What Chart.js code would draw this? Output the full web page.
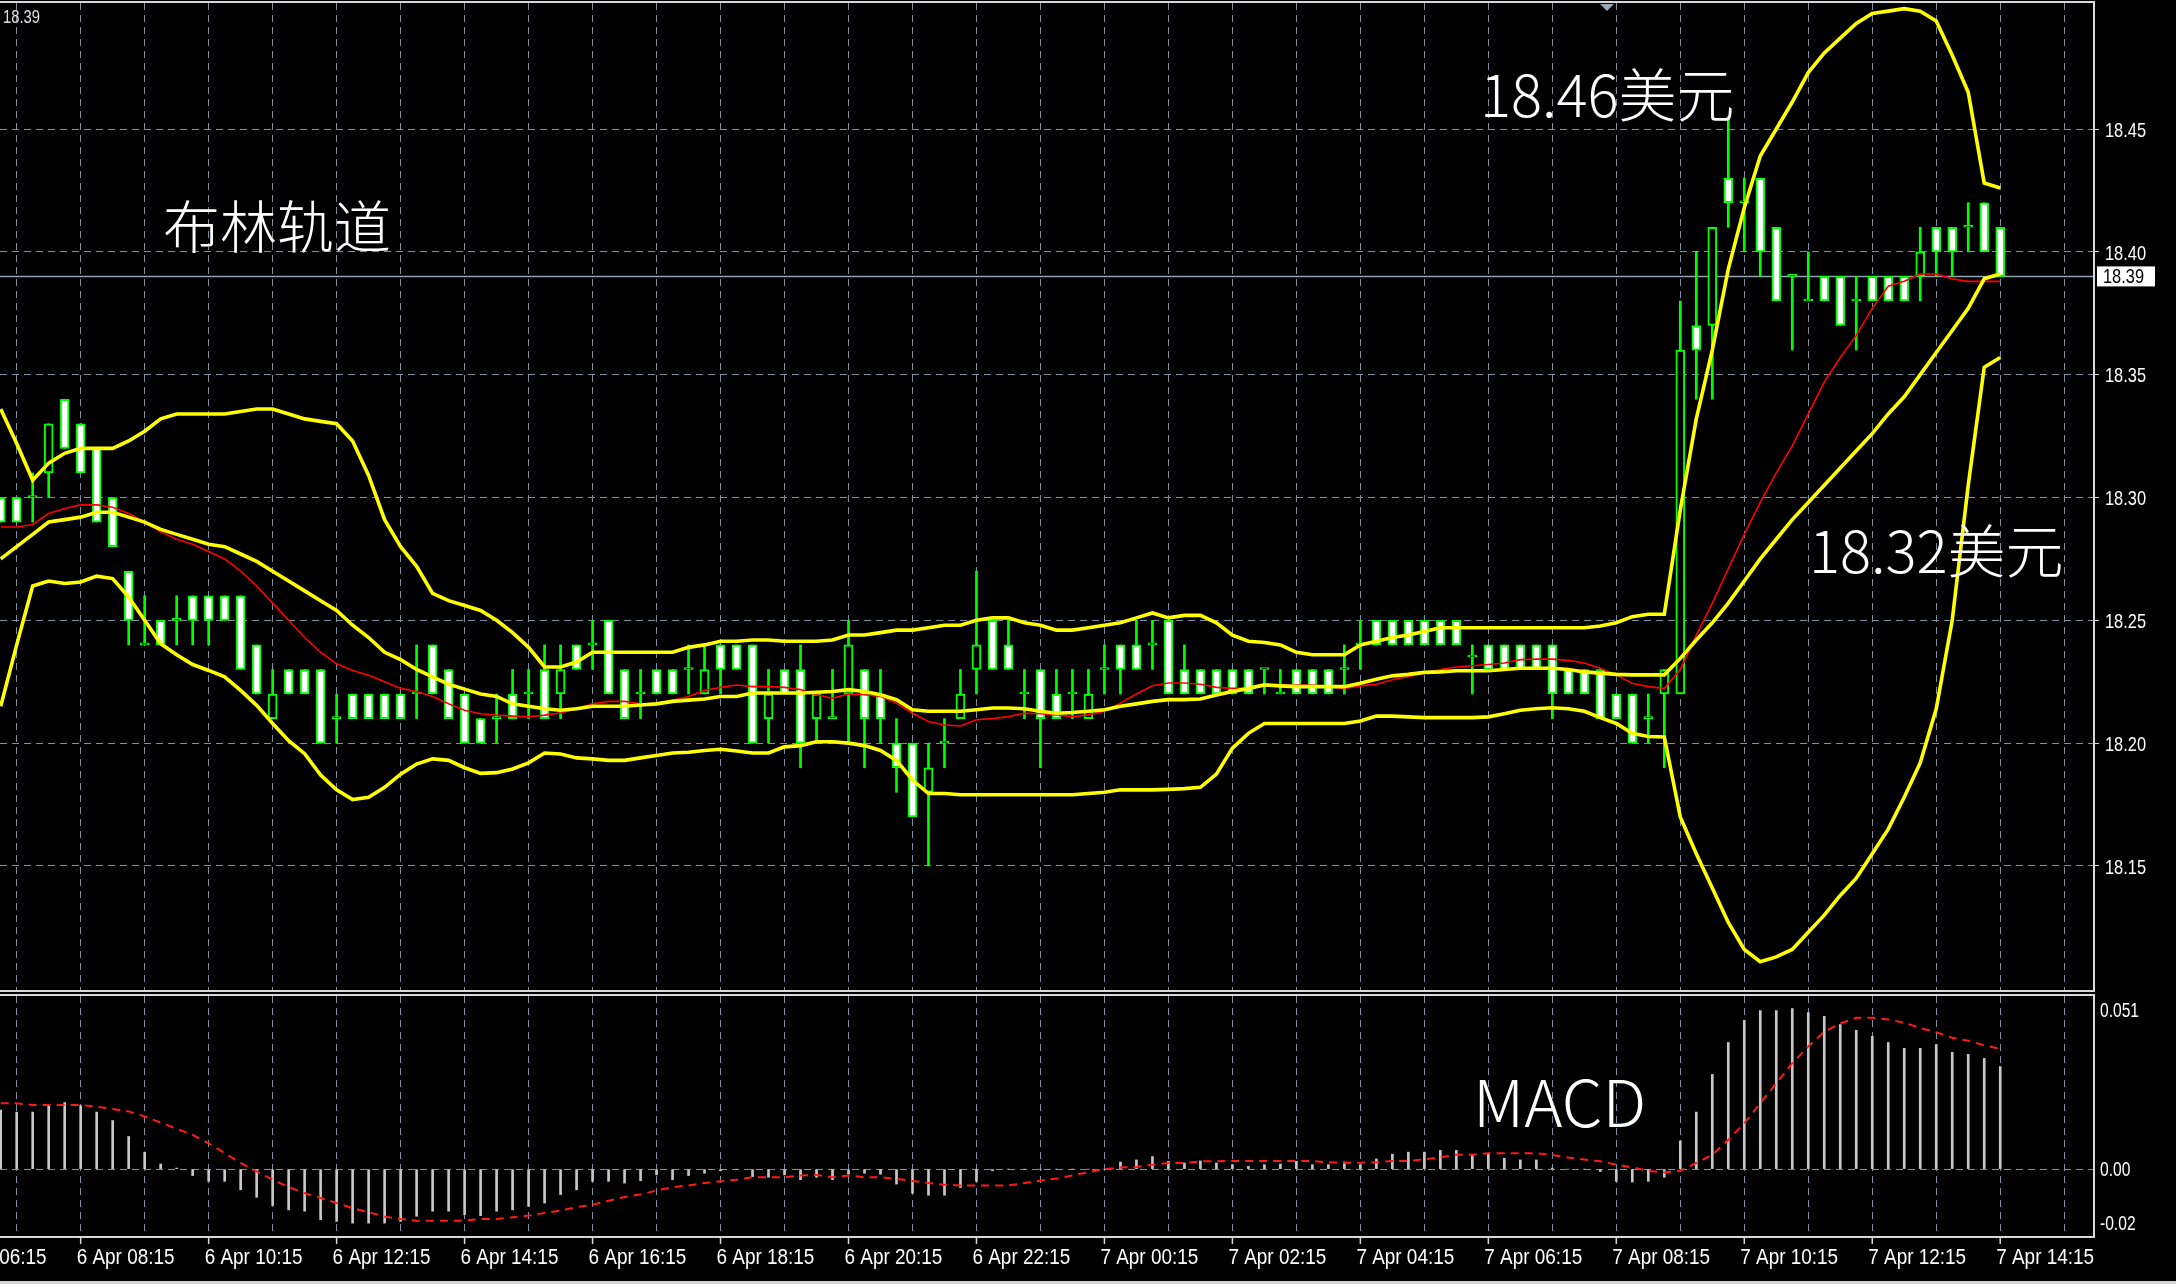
<!DOCTYPE html>
<html>
<head>
<meta charset="utf-8">
<script src="https://cdn.jsdelivr.net/npm/chart.js@4.4.1/dist/chart.umd.min.js"></script>
<style>
  html, body { margin: 0; padding: 0; background: #000; overflow: hidden; }
  #wrap { position: relative; width: 2176px; height: 1284px; background: #000; overflow: hidden; }
  #main { position: absolute; left: 0; top: 0; }
  #macd { position: absolute; left: 0; top: 993px; }
  .note { position: absolute; color: #fff; font-family: "Noto Sans CJK SC", sans-serif; font-weight: 300; line-height: 1; white-space: nowrap; }
  #strip { position: absolute; left: 0; top: 1281px; width: 2176px; height: 3px; background: #d4d4d4; }
</style>
</head>
<body>
<div id="wrap">
  <canvas id="main" width="2176" height="992"></canvas>
  <canvas id="macd" width="2176" height="291"></canvas>
  <div class="note" style="left:163px;top:195px;font-size:57px">布林轨道</div>
  <div class="note" style="left:1480px;top:63px;font-size:58px">18.46美元</div>
  <div class="note" style="left:1809px;top:519px;font-size:58px">18.32美元</div>
  <div class="note" style="left:1473px;top:1067px;font-size:65px">MACD</div>
  <div id="strip"></div>
</div>
<script>
// 15-minute candles, 6 Apr 07:00 .. 7 Apr 14:15
const open = [
  18.30, 18.30, 18.30, 18.31, 18.34, 18.33, 18.32, 18.30, 18.27, 18.24,
  18.25, 18.25, 18.26, 18.26, 18.26, 18.26, 18.24, 18.21, 18.23, 18.23,
  18.23, 18.21, 18.22, 18.22, 18.22, 18.22, 18.22, 18.24, 18.23, 18.22,
  18.21, 18.21, 18.22, 18.22, 18.23, 18.22, 18.24, 18.24, 18.25, 18.23,
  18.22, 18.23, 18.23, 18.23, 18.22, 18.24, 18.24, 18.24, 18.21, 18.23,
  18.23, 18.21, 18.21, 18.22, 18.23, 18.22, 18.20, 18.20, 18.18, 18.20,
  18.21, 18.23, 18.25, 18.24, 18.22, 18.23, 18.22, 18.22, 18.21, 18.23,
  18.24, 18.24, 18.24, 18.25, 18.23, 18.23, 18.23, 18.23, 18.23, 18.23,
  18.22, 18.23, 18.23, 18.23, 18.23, 18.24, 18.25, 18.25, 18.25, 18.25,
  18.25, 18.25, 18.235, 18.24, 18.24, 18.24, 18.24, 18.24, 18.23, 18.23,
  18.23, 18.22, 18.22, 18.21, 18.22, 18.22, 18.37, 18.37, 18.43, 18.42,
  18.43, 18.41, 18.39, 18.38, 18.39, 18.39, 18.38, 18.39, 18.39, 18.39,
  18.39, 18.41, 18.41, 18.41, 18.42, 18.41
];
const high = [
  18.30, 18.30, 18.31, 18.33, 18.34, 18.33, 18.32, 18.30, 18.27, 18.26,
  18.25, 18.26, 18.26, 18.26, 18.26, 18.26, 18.24, 18.23, 18.23, 18.23,
  18.23, 18.22, 18.22, 18.22, 18.22, 18.22, 18.24, 18.24, 18.23, 18.22,
  18.21, 18.22, 18.23, 18.23, 18.24, 18.24, 18.24, 18.25, 18.25, 18.23,
  18.23, 18.23, 18.23, 18.24, 18.24, 18.24, 18.24, 18.24, 18.23, 18.23,
  18.24, 18.22, 18.23, 18.25, 18.23, 18.23, 18.21, 18.20, 18.20, 18.21,
  18.23, 18.27, 18.25, 18.25, 18.23, 18.23, 18.23, 18.23, 18.23, 18.24,
  18.24, 18.25, 18.25, 18.25, 18.24, 18.23, 18.23, 18.23, 18.23, 18.23,
  18.23, 18.23, 18.23, 18.23, 18.24, 18.25, 18.25, 18.25, 18.25, 18.25,
  18.25, 18.25, 18.24, 18.24, 18.24, 18.24, 18.24, 18.24, 18.23, 18.23,
  18.23, 18.22, 18.22, 18.22, 18.23, 18.38, 18.40, 18.41, 18.455, 18.43,
  18.43, 18.41, 18.39, 18.40, 18.39, 18.39, 18.39, 18.39, 18.39, 18.39,
  18.41, 18.41, 18.41, 18.42, 18.42, 18.41
];
const low = [
  18.29, 18.29, 18.29, 18.30, 18.32, 18.31, 18.29, 18.28, 18.24, 18.24,
  18.24, 18.24, 18.24, 18.24, 18.25, 18.23, 18.22, 18.21, 18.22, 18.22,
  18.20, 18.20, 18.21, 18.21, 18.21, 18.21, 18.21, 18.22, 18.21, 18.20,
  18.20, 18.20, 18.21, 18.21, 18.21, 18.21, 18.23, 18.23, 18.22, 18.21,
  18.21, 18.22, 18.22, 18.22, 18.22, 18.22, 18.23, 18.20, 18.20, 18.22,
  18.19, 18.20, 18.21, 18.20, 18.19, 18.20, 18.18, 18.17, 18.15, 18.19,
  18.21, 18.22, 18.23, 18.23, 18.21, 18.19, 18.21, 18.21, 18.21, 18.22,
  18.22, 18.23, 18.23, 18.22, 18.22, 18.22, 18.22, 18.22, 18.22, 18.22,
  18.22, 18.22, 18.22, 18.22, 18.22, 18.23, 18.24, 18.24, 18.24, 18.24,
  18.24, 18.24, 18.22, 18.23, 18.23, 18.23, 18.23, 18.21, 18.22, 18.22,
  18.21, 18.21, 18.20, 18.20, 18.19, 18.22, 18.34, 18.34, 18.41, 18.40,
  18.39, 18.38, 18.36, 18.38, 18.38, 18.37, 18.36, 18.38, 18.38, 18.38,
  18.38, 18.39, 18.39, 18.40, 18.40, 18.39
];
const close = [
  18.29, 18.29, 18.30, 18.33, 18.32, 18.31, 18.29, 18.28, 18.25, 18.24,
  18.24, 18.25, 18.25, 18.25, 18.25, 18.23, 18.22, 18.22, 18.22, 18.22,
  18.20, 18.21, 18.21, 18.21, 18.21, 18.21, 18.22, 18.22, 18.21, 18.20,
  18.20, 18.21, 18.21, 18.22, 18.21, 18.23, 18.23, 18.24, 18.22, 18.21,
  18.22, 18.22, 18.22, 18.23, 18.23, 18.23, 18.23, 18.20, 18.22, 18.22,
  18.20, 18.22, 18.21, 18.24, 18.21, 18.21, 18.19, 18.17, 18.19, 18.20,
  18.22, 18.24, 18.23, 18.23, 18.22, 18.21, 18.21, 18.22, 18.22, 18.23,
  18.23, 18.23, 18.24, 18.22, 18.22, 18.22, 18.22, 18.22, 18.22, 18.23,
  18.22, 18.22, 18.22, 18.22, 18.23, 18.24, 18.24, 18.24, 18.24, 18.24,
  18.24, 18.24, 18.235, 18.23, 18.23, 18.23, 18.23, 18.22, 18.22, 18.22,
  18.21, 18.21, 18.20, 18.21, 18.23, 18.36, 18.36, 18.41, 18.42, 18.42,
  18.40, 18.38, 18.39, 18.38, 18.38, 18.37, 18.38, 18.38, 18.38, 18.38,
  18.40, 18.40, 18.40, 18.41, 18.40, 18.39
];

// Bollinger bands and the fast average
const bandUpper = [
  18.336, 18.322, 18.307, 18.314, 18.318, 18.320, 18.320, 18.320, 18.323, 18.327,
  18.332, 18.334, 18.334, 18.334, 18.334, 18.335, 18.336, 18.336, 18.334, 18.332,
  18.331, 18.330, 18.323, 18.309, 18.291, 18.280, 18.272, 18.261, 18.258, 18.256,
  18.254, 18.250, 18.245, 18.239, 18.231, 18.231, 18.233, 18.237, 18.237, 18.237,
  18.237, 18.237, 18.237, 18.239, 18.240, 18.2415, 18.2415, 18.242, 18.242, 18.2415,
  18.2415, 18.2415, 18.242, 18.244, 18.244, 18.245, 18.246, 18.246, 18.247, 18.248,
  18.248, 18.250, 18.251, 18.251, 18.249, 18.248, 18.246, 18.246, 18.247, 18.248,
  18.249, 18.251, 18.253, 18.251, 18.252, 18.252, 18.249, 18.244, 18.2415, 18.241,
  18.240, 18.237, 18.236, 18.236, 18.236, 18.240, 18.2415, 18.243, 18.244, 18.2455,
  18.247, 18.247, 18.247, 18.247, 18.247, 18.247, 18.247, 18.247, 18.247, 18.247,
  18.2477, 18.249, 18.2515, 18.2525, 18.2525, 18.295, 18.332, 18.360, 18.393, 18.418,
  18.439, 18.450, 18.461, 18.473, 18.481, 18.487, 18.493, 18.497, 18.498, 18.499,
  18.498, 18.494, 18.480, 18.465, 18.428, 18.426
];
const bandMiddle = [
  18.275, 18.280, 18.285, 18.290, 18.291, 18.292, 18.294, 18.294, 18.292, 18.290,
  18.287, 18.285, 18.283, 18.281, 18.280, 18.277, 18.274, 18.270, 18.266, 18.262,
  18.258, 18.254, 18.248, 18.243, 18.237, 18.234, 18.230, 18.227, 18.224, 18.222,
  18.220, 18.219, 18.216, 18.215, 18.214, 18.2134, 18.214, 18.215, 18.215, 18.215,
  18.2155, 18.216, 18.217, 18.2175, 18.218, 18.219, 18.219, 18.2204, 18.2204, 18.2204,
  18.2204, 18.2207, 18.221, 18.2218, 18.221, 18.2197, 18.2177, 18.2136, 18.213, 18.213,
  18.213, 18.2136, 18.2143, 18.2143, 18.214, 18.213, 18.2122, 18.2125, 18.213, 18.2136,
  18.215, 18.216, 18.217, 18.2177, 18.2177, 18.218, 18.2196, 18.221, 18.2223, 18.2237,
  18.2233, 18.223, 18.223, 18.223, 18.223, 18.2244, 18.226, 18.2274, 18.228, 18.2288,
  18.229, 18.2295, 18.2295, 18.2295, 18.230, 18.2305, 18.2305, 18.2305, 18.230, 18.229,
  18.2285, 18.228, 18.2278, 18.2278, 18.2278, 18.2345, 18.242, 18.249, 18.257, 18.266,
  18.275, 18.283, 18.291, 18.298, 18.305, 18.312, 18.319, 18.326, 18.334, 18.341,
  18.350, 18.359, 18.368, 18.377, 18.389, 18.391
];
const bandLower = [
  18.215, 18.240, 18.264, 18.266, 18.265, 18.2656, 18.268, 18.267, 18.2595, 18.250,
  18.2405, 18.236, 18.232, 18.2296, 18.227, 18.2215, 18.2154, 18.208, 18.201, 18.1957,
  18.187, 18.181, 18.177, 18.178, 18.182, 18.1874, 18.1915, 18.1936, 18.193, 18.190,
  18.1877, 18.188, 18.1895, 18.192, 18.196, 18.1956, 18.194, 18.1936, 18.193, 18.193,
  18.194, 18.195, 18.196, 18.1963, 18.197, 18.1975, 18.1968, 18.196, 18.196, 18.1985,
  18.199, 18.2006, 18.2006, 18.200, 18.199, 18.197, 18.193, 18.185, 18.1795, 18.1795,
  18.179, 18.179, 18.179, 18.179, 18.179, 18.179, 18.179, 18.179, 18.1795, 18.180,
  18.181, 18.181, 18.181, 18.1812, 18.1815, 18.182, 18.1874, 18.198, 18.204, 18.208,
  18.208, 18.208, 18.208, 18.208, 18.208, 18.209, 18.211, 18.211, 18.2107, 18.2104,
  18.2104, 18.2104, 18.2104, 18.2107, 18.212, 18.2134, 18.214, 18.2144, 18.214, 18.213,
  18.2104, 18.208, 18.204, 18.2027, 18.2025, 18.170, 18.155, 18.141, 18.127, 18.116,
  18.111, 18.113, 18.116, 18.123, 18.130, 18.138, 18.145, 18.155, 18.165, 18.178,
  18.192, 18.214, 18.250, 18.305, 18.353, 18.357
];
const maFast = [
  18.288, 18.288, 18.289, 18.2935, 18.2955, 18.297, 18.297, 18.296, 18.2935, 18.290,
  18.286, 18.283, 18.281, 18.278, 18.275, 18.270, 18.264, 18.257, 18.250, 18.243,
  18.237, 18.2323, 18.2296, 18.2276, 18.225, 18.2223, 18.221, 18.219, 18.216, 18.2134,
  18.212, 18.2114, 18.211, 18.2107, 18.2114, 18.2123, 18.214, 18.216, 18.217, 18.217,
  18.216, 18.216, 18.2175, 18.219, 18.2214, 18.2227, 18.2237, 18.223, 18.223, 18.2227,
  18.2218, 18.2197, 18.2183, 18.220, 18.2197, 18.219, 18.2163, 18.2122, 18.2088, 18.2074,
  18.207, 18.2095, 18.210, 18.2108, 18.2122, 18.212, 18.2115, 18.2108, 18.2115, 18.213,
  18.2163, 18.220, 18.2234, 18.2245, 18.2245, 18.224, 18.2227, 18.2223, 18.2223, 18.2233,
  18.2237, 18.2237, 18.2237, 18.223, 18.2223, 18.2233, 18.224, 18.2258, 18.2271, 18.2285,
  18.230, 18.231, 18.2315, 18.232, 18.2326, 18.234, 18.2342, 18.2342, 18.2337, 18.2326,
  18.2305, 18.2278, 18.2244, 18.223, 18.2223, 18.230, 18.244, 18.257, 18.271, 18.285,
  18.298, 18.310, 18.321, 18.334, 18.347, 18.357, 18.366, 18.377, 18.386, 18.388,
  18.391, 18.391, 18.389, 18.388, 18.388, 18.388
];

// MACD histogram and signal
const macdMain = [
  0.0174, 0.0168, 0.0168, 0.0187, 0.0196, 0.0187, 0.0168, 0.0143, 0.0096, 0.0050,
  0.0015, 0.0003, -0.0019, -0.0036, -0.0036, -0.0061, -0.0083, -0.0107, -0.0120, -0.0124,
  -0.0149, -0.0154, -0.0159, -0.0159, -0.0159, -0.0154, -0.0139, -0.0124, -0.0124, -0.0134,
  -0.0137, -0.0124, -0.0120, -0.0110, -0.0100, -0.0075, -0.0061, -0.0036, -0.0036, -0.0041,
  -0.0034, -0.0017, -0.0031, -0.0019, -0.0012, -0.0005, 0, -0.0022, -0.0024, -0.0017,
  -0.0031, -0.0024, -0.0031, -0.0015, -0.0012, -0.0015, -0.0044, -0.0071, -0.0077, -0.0077,
  -0.0054, -0.0036, -0.0005, 0, 0, 0, 0, 0, 0, 0,
  0.0021, 0.0027, 0.0037, 0.0023, 0.0018, 0.0024, 0.0018, 0.0013, 0.0008, 0.0013,
  0.0015, 0.0023, 0.0013, 0.0013, 0.0021, 0.0013, 0.0030, 0.0044, 0.0050, 0.0050,
  0.0055, 0.0055, 0.0042, 0.0047, 0.0032, 0.0027, 0.0027, 0.0003, 0, 0,
  -0.0007, -0.0036, -0.0038, -0.0036, -0.0024, 0.0083, 0.0168, 0.0279, 0.0373, 0.0438,
  0.0467, 0.0467, 0.0473, 0.0461, 0.0450, 0.0426, 0.0409, 0.0391, 0.0373, 0.0356,
  0.0356, 0.0367, 0.0344, 0.0338, 0.0326, 0.0302
];
const macdSignal = [
  0.0194, 0.0194, 0.0189, 0.0189, 0.0189, 0.0189, 0.0184, 0.0177, 0.0170, 0.0155,
  0.0137, 0.0119, 0.0101, 0.0076, 0.0047, 0.0018, -0.0007, -0.0031, -0.0053, -0.0071,
  -0.0085, -0.0100, -0.0115, -0.0127, -0.0140, -0.0147, -0.0152, -0.0152, -0.0152, -0.0152,
  -0.0147, -0.0147, -0.0142, -0.0137, -0.0129, -0.0122, -0.0112, -0.0105, -0.0093, -0.0082,
  -0.0075, -0.0063, -0.0053, -0.0048, -0.0041, -0.0036, -0.0031, -0.0024, -0.0024, -0.0024,
  -0.0019, -0.0017, -0.0024, -0.0019, -0.0024, -0.0024, -0.0029, -0.0035, -0.0041, -0.0046,
  -0.0048, -0.0048, -0.0048, -0.0048, -0.0041, -0.0034, -0.0028, -0.0019, -0.0009, 0,
  0.0005, 0.0006, 0.0013, 0.0018, 0.0018, 0.0023, 0.0023, 0.0024, 0.0024, 0.0024,
  0.0024, 0.0024, 0.0024, 0.0020, 0.0019, 0.0019, 0.0020, 0.0024, 0.0024, 0.0029,
  0.0035, 0.0042, 0.0042, 0.0047, 0.0047, 0.0047, 0.0047, 0.0042, 0.0034, 0.0028,
  0.0023, 0.0013, 0.0005, -0.0005, -0.0010, -0.0005, 0.0018, 0.0042, 0.0086, 0.0135,
  0.0194, 0.0253, 0.0312, 0.0361, 0.0405, 0.0429, 0.0446, 0.0446, 0.0441, 0.0431,
  0.0416, 0.0403, 0.0387, 0.0378, 0.0365, 0.0354
];

const lastPrice = 18.39;
const priceTicks = [18.15, 18.20, 18.25, 18.30, 18.35, 18.40, 18.45];
const macdTicks = [-0.02, 0, 0.051];
const timeLabels = [
  "6 Apr 06:15", "6 Apr 08:15", "6 Apr 10:15", "6 Apr 12:15", "6 Apr 14:15",
  "6 Apr 16:15", "6 Apr 18:15", "6 Apr 20:15", "6 Apr 22:15", "7 Apr 00:15",
  "7 Apr 02:15", "7 Apr 04:15", "7 Apr 06:15", "7 Apr 08:15", "7 Apr 10:15",
  "7 Apr 12:15", "7 Apr 14:15"
];
const labelBars = [-3, 5, 13, 21, 29, 37, 45, 53, 61, 69, 77, 85, 93, 101, 109, 117, 125];

const xMin = -0.044;
const xMax = 130.8;
const gridBars = [];
for (let v = 1; v <= 129; v += 4) gridBars.push(v);

const GREEN = "#00ff00";
const GRID = "#7f8fa3";
const FRAME = "#d8d8d8";
const axisFont = '"Liberation Sans", "DejaVu Sans", sans-serif';
const xs = close.map((_, i) => i);
const pts = (arr) => xs.map((i) => ({ x: i, y: arr[i] }));

// narrow text like the terminal font
function narrowText(ctx, text, x, y, sx) {
  ctx.save();
  ctx.translate(x, y);
  ctx.scale(sx, 1);
  ctx.fillText(text, 0, 0);
  ctx.restore();
}

const xAxis = {
  type: "linear",
  min: xMin,
  max: xMax,
  offset: false,
  afterBuildTicks: (s) => { s.ticks = gridBars.map((v) => ({ value: v })); },
  grid: { color: GRID, drawTicks: false, offset: false, lineWidth: 1 },
  border: { display: false, dash: [7, 5] },
  ticks: { display: false },
};

const mainDeco = {
  id: "mainDeco",
  afterDraw(chart) {
    const { ctx, chartArea: a, scales } = chart;
    ctx.save();
    ctx.fillStyle = FRAME;
    ctx.fillRect(0, 1, a.right + 2, 2);
    ctx.fillRect(a.right, 1, 2, a.bottom);
    ctx.fillRect(0, a.bottom - 2, a.right + 2, 2);
    // shift marker
    ctx.fillStyle = "#9aa6b4";
    ctx.beginPath();
    ctx.moveTo(1600, 4);
    ctx.lineTo(1614, 4);
    ctx.lineTo(1607, 11);
    ctx.closePath();
    ctx.fill();
    ctx.textBaseline = "middle";
    ctx.textAlign = "left";
    ctx.font = "21px " + axisFont;
    ctx.fillStyle = "#ffffff";
    priceTicks.forEach((v) => {
      narrowText(ctx, v.toFixed(2), a.right + 12, scales.y.getPixelForValue(v) + 2, 0.78);
    });
    // price box
    const py = scales.y.getPixelForValue(lastPrice);
    ctx.fillStyle = "#ffffff";
    ctx.fillRect(a.right + 4, py - 10, 58, 20);
    ctx.fillStyle = "#000000";
    narrowText(ctx, lastPrice.toFixed(2), a.right + 10, py + 1, 0.78);
    ctx.fillStyle = "#e0e0e0";
    ctx.font = "18px " + axisFont;
    narrowText(ctx, lastPrice.toFixed(2), 3, 18, 0.82);
    ctx.restore();
  },
};

new Chart(document.getElementById("main"), {
  type: "bar",
  data: {
    datasets: [
      {
        type: "line",
        data: [{ x: xMin, y: lastPrice }, { x: xMax, y: lastPrice }],
        borderColor: "#93a1b2",
        borderWidth: 1.5,
        pointRadius: 0,
        order: 6,
      },
      {
        type: "bar",
        data: xs.map((i) => ({ x: i, y: [low[i], high[i]] })),
        backgroundColor: GREEN,
        barThickness: 2,
        grouped: false,
        order: 5,
      },
      {
        type: "bar",
        data: xs.map((i) => ({ x: i, y: [open[i], close[i]] })),
        backgroundColor: xs.map((i) => (close[i] < open[i] ? "#ffffff" : "#000000")),
        borderColor: GREEN,
        borderWidth: 2,
        borderSkipped: false,
        barThickness: 9,
        minBarLength: 2,
        grouped: false,
        order: 4,
      },
      { type: "line", data: pts(maFast), borderColor: "#ff0000", borderWidth: 1.6, pointRadius: 0, order: 3 },
      { type: "line", data: pts(bandLower), borderColor: "#ffff00", borderWidth: 3.6, pointRadius: 0, order: 2 },
      { type: "line", data: pts(bandMiddle), borderColor: "#ffff00", borderWidth: 3.6, pointRadius: 0, order: 2 },
      { type: "line", data: pts(bandUpper), borderColor: "#ffff00", borderWidth: 3.6, pointRadius: 0, order: 2 },
    ],
  },
  options: {
    responsive: false,
    animation: false,
    events: [],
    layout: { padding: { top: 3, right: 0, bottom: 0, left: 0 } },
    plugins: { legend: { display: false }, tooltip: { enabled: false } },
    scales: {
      x: Object.assign({}, xAxis, {
        afterFit: (s) => { s.height = 0; s.paddingLeft = 0; s.paddingRight = 0; },
      }),
      y: {
        type: "linear",
        position: "right",
        min: 18.0987,
        max: 18.5013,
        afterBuildTicks: (s) => { s.ticks = priceTicks.map((v) => ({ value: v })); },
        afterFit: (s) => { s.width = 83; s.paddingTop = 0; s.paddingBottom = 0; },
        grid: { color: GRID, tickColor: "#d8d8d8", tickLength: 6, lineWidth: 1 },
        border: { display: false, dash: [7, 5] },
        ticks: { display: false },
      },
    },
  },
  plugins: [mainDeco],
});

const macdDeco = {
  id: "macdDeco",
  afterDraw(chart) {
    const { ctx, chartArea: a, scales } = chart;
    ctx.save();
    ctx.fillStyle = FRAME;
    ctx.fillRect(0, a.top - 2, a.right + 2, 2);
    ctx.fillRect(a.right, a.top - 2, 2, a.bottom - a.top + 3);
    ctx.fillRect(0, a.bottom - 1, a.right + 2, 2);
    ctx.fillStyle = "#ffffff";
    ctx.font = "20px " + axisFont;
    ctx.textAlign = "left";
    ctx.textBaseline = "middle";
    const yTop = scales.y.getPixelForValue(macdTicks[2]);
    const yZero = scales.y.getPixelForValue(macdTicks[1]);
    const yBot = scales.y.getPixelForValue(macdTicks[0]);
    narrowText(ctx, macdTicks[2].toFixed(3), a.right + 7, yTop + 15, 0.78);
    narrowText(ctx, macdTicks[1].toFixed(2), a.right + 7, yZero + 1, 0.78);
    narrowText(ctx, macdTicks[0].toFixed(2), a.right + 7, yBot - 13, 0.78);
    // time axis
    ctx.font = "22px " + axisFont;
    ctx.strokeStyle = FRAME;
    ctx.lineWidth = 1.5;
    labelBars.forEach((b, k) => {
      const x = scales.x.getPixelForValue(b);
      ctx.beginPath();
      ctx.moveTo(x, a.bottom);
      ctx.lineTo(x, a.bottom + 7);
      ctx.stroke();
      narrowText(ctx, timeLabels[k], x - 4, a.bottom + 21, 0.86);
    });
    ctx.restore();
  },
};

new Chart(document.getElementById("macd"), {
  type: "bar",
  data: {
    datasets: [
      {
        type: "line",
        data: pts(macdSignal),
        borderColor: "#ff1a1a",
        borderWidth: 2,
        borderDash: [8, 6],
        pointRadius: 0,
        order: 1,
      },
      {
        type: "bar",
        data: pts(macdMain),
        backgroundColor: "#c8c8c8",
        barThickness: 2,
        grouped: false,
        order: 2,
      },
    ],
  },
  options: {
    responsive: false,
    animation: false,
    events: [],
    layout: { padding: { top: 3, right: 0, bottom: 0, left: 0 } },
    plugins: { legend: { display: false }, tooltip: { enabled: false } },
    scales: {
      x: Object.assign({}, xAxis, {
        afterFit: (s) => { s.height = 47; s.paddingLeft = 0; s.paddingRight = 0; },
      }),
      y: {
        type: "linear",
        position: "right",
        min: -0.02,
        max: 0.051,
        afterBuildTicks: (s) => { s.ticks = macdTicks.map((v) => ({ value: v })); },
        afterFit: (s) => { s.width = 83; s.paddingTop = 0; s.paddingBottom = 0; },
        grid: {
          color: (c) => (c.tick && c.tick.value === 0 ? GRID : "rgba(0,0,0,0)"),
          drawTicks: false,
          lineWidth: 1,
        },
        border: { display: false, dash: [7, 5] },
        ticks: { display: false },
      },
    },
  },
  plugins: [macdDeco],
});
</script>
</body>
</html>
